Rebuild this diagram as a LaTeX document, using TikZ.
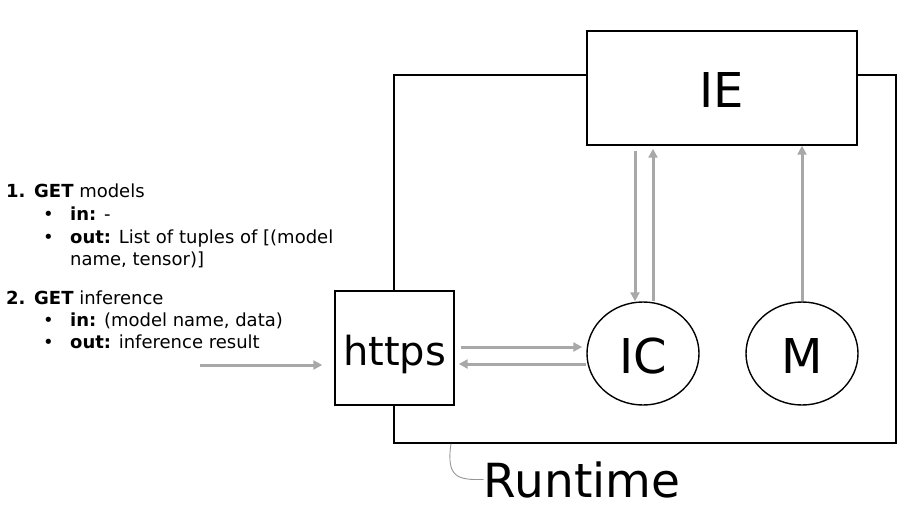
\documentclass[tikz,border=0pt]{standalone}
\usepackage{fontspec}
\setmainfont{DejaVu Sans}
\usetikzlibrary{arrows.meta,shapes.geometric}
\definecolor{arrowgray}{RGB}{168,168,168}
\definecolor{leadergray}{RGB}{150,150,150}
\begin{document}
\begin{tikzpicture}[x=1pt,y=-1pt,
  box/.style={draw=black,line width=1.4pt,fill=white,inner sep=0pt},
  bigtext/.style={font=\fontsize{48}{48}\selectfont},
  flow/.style={draw=arrowgray,line width=3pt,-{Triangle[length=9pt,width=9pt]}},
  leader/.style={draw=leadergray,line width=0.9pt},
  lt/.style={anchor=base west,inner sep=0pt,font=\fontsize{18}{22}\selectfont}]
\useasboundingbox (0,0) rectangle (908,507);

% Runtime container
\node[box,fill=none,minimum width=502pt,minimum height=368pt] (runtime) at (645,259) {};
% IE box on top
\node[box,bigtext,minimum width=270pt,minimum height=114pt,text height=38pt,text depth=0pt] (ie) at (722,88) {IE};
% https box
\node[box,font=\fontsize{40}{40}\selectfont,minimum width=119pt,minimum height=114pt,text height=34pt,text depth=0pt] (https) at (394.5,348) {https};
% IC and M
\node[box,ellipse,bigtext,minimum width=112pt,minimum height=103pt,text height=39pt,text depth=0pt] (ic) at (643,353.5) {IC};
\node[box,ellipse,bigtext,minimum width=112pt,minimum height=103pt,text height=39pt,text depth=0pt] (m) at (802,353.5) {M};

% Runtime label
\node[anchor=base,inner sep=0pt,font=\fontsize{47}{47}\selectfont] (rtl) at (582,497) {Runtime};
\coordinate (lx) at (451,0);
\draw[leader] (runtime.south -| lx) .. controls (446,478) and (458,480) .. (rtl.west);

% helper coordinates
\coordinate (y1) at (0,347);
\coordinate (y2) at (0,364);
\coordinate (in) at (200,365);
\coordinate (xd) at (635,0);
\coordinate (xu) at (653,0);

% connectors
\draw[flow,shorten >=12pt] (in) -- (https.west |- in);
\draw[flow,shorten <=6pt,shorten >=4pt] (https.east |- y1) -- (ic.west |- y1);
\draw[flow,shorten >=4pt] (ic.west |- y2) -- (https.east |- y2);
\draw[flow,shorten <=5pt] (ie.south -| xd) -- (ic.north -| xd);
\draw[flow,shorten >=3pt] (ic.north -| xu) -- (ie.south -| xu);
\draw[flow] (m.north) -- (ie.south -| m.north);

% list text
\node[lt] (n1) at (6,197) {\textbf{1.}};
\node[lt] (g1) at (34,197) {\textbf{GET} models};
\node[lt] (b11) at (43,220) {•};
\node[lt] (t11) at (70,220) {\textbf{in:} -};
\node[lt] (b12) at (43,243) {•};
\node[lt] (t12) at (70,243) {\textbf{out:} List of tuples of [(model};
\node[lt] (t13) at (70,265) {name, tensor)]};
\node[lt] (n2) at (6,304) {\textbf{2.}};
\node[lt] (g2) at (34,304) {\textbf{GET} inference};
\node[lt] (b21) at (43,326) {•};
\node[lt] (t21) at (70,326) {\textbf{in:} (model name, data)};
\node[lt] (b22) at (43,348) {•};
\node[lt] (t22) at (70,348) {\textbf{out:} inference result};
\end{tikzpicture}
\end{document}
